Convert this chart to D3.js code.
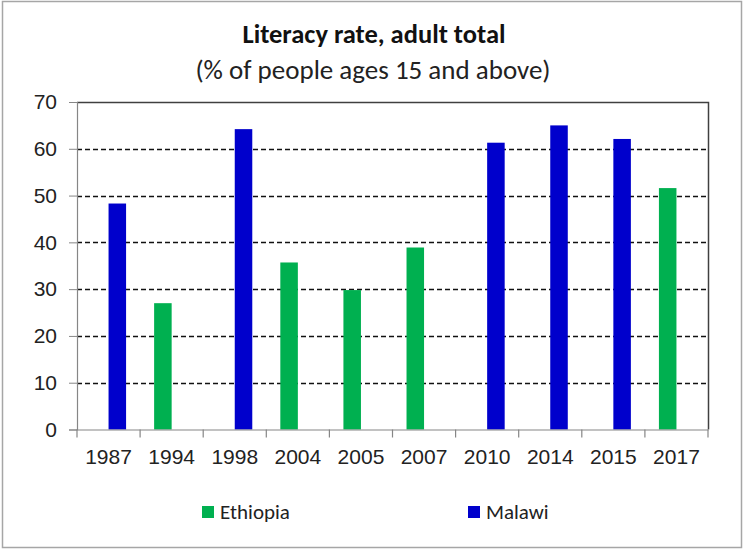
<!DOCTYPE html>
<html><head><meta charset="utf-8">
<script src="https://cdn.jsdelivr.net/npm/d3@7"></script>
<style>
html,body{margin:0;padding:0;background:#fff;}
svg{display:block;font-family:Calibri,Carlito,Lato,"Open Sans",sans-serif;}
</style></head>
<body>
<script>
const years = ["1987","1994","1998","2004","2005","2007","2010","2014","2015","2017"];
const seriesNames = ["Ethiopia","Malawi"];
const ethiopia = [null,27.0,null,35.7,29.8,38.9,null,null,null,51.6];
const malawi = [48.3,null,64.2,null,null,null,61.3,65.0,62.1,null];
const yTicks = [0,10,20,30,40,50,60,70];
const colors = {"Ethiopia":"#00B050","Malawi":"#0000CC"};

const W=743,H=550;
const m={left:77,top:102,right:708,bottom:429.5};
const svg=d3.select("body").append("svg").attr("width",W).attr("height",H);
svg.append("rect").attr("x",2.5).attr("y",1.5).attr("width",W-4).attr("height",H-4)
  .attr("fill","#fff").attr("stroke","#a6a6a6").attr("stroke-width",1.5);

const x0=d3.scaleBand().domain(years).range([m.left,m.right]).padding(0);
const x1=d3.scaleBand().domain(seriesNames).range([0,x0.bandwidth()]).paddingInner(0).paddingOuter(0.8);
const y=d3.scaleLinear().domain([0,70]).range([m.bottom,m.top]);

// gridlines
svg.append("g").selectAll("line").data(yTicks.filter(d=>d>0&&d<70)).join("line")
  .attr("x1",m.left).attr("x2",m.right).attr("y1",d=>Math.round(y(d))+0.5).attr("y2",d=>Math.round(y(d))+0.5)
  .attr("stroke","#111").attr("stroke-width",1.3).attr("stroke-dasharray","5,3");

// bars
const data=[];
years.forEach((yr,i)=>{
  if(ethiopia[i]!=null) data.push({yr,s:"Ethiopia",v:ethiopia[i]});
  if(malawi[i]!=null) data.push({yr,s:"Malawi",v:malawi[i]});
});
svg.append("g").selectAll("rect").data(data).join("rect")
  .attr("x",d=>x0(d.yr)+x1(d.s)).attr("width",x1.bandwidth())
  .attr("y",d=>y(d.v)).attr("height",d=>y(0)-y(d.v)).attr("fill",d=>colors[d.s]);

// top and right border
svg.append("path").attr("d",`M${m.left},${m.top+0.5}H${m.right+0.5}V${m.bottom}`)
  .attr("fill","none").attr("stroke","#404040").attr("stroke-width",1.5);

// y axis
const yAxis=d3.axisLeft(y).tickValues(yTicks).tickSize(8).tickPadding(12);
const gy=svg.append("g").attr("transform",`translate(${m.left},0)`).call(yAxis);
gy.select(".domain").attr("stroke","#868686").attr("stroke-width",1.2);
gy.selectAll(".tick line").attr("stroke","#868686");
gy.selectAll(".tick text").attr("font-size",21).attr("fill","#222").style("font-family","inherit");

// x axis
const gx=svg.append("g").attr("transform",`translate(0,${m.bottom})`)
  .call(d3.axisBottom(x0).tickSize(0).tickPadding(20));
gx.select(".domain").attr("stroke","#868686").attr("stroke-width",1.2);
gx.selectAll(".tick text").attr("font-size",21).attr("fill","#222").style("font-family","inherit");
const bounds=years.map(yr=>x0(yr)).concat([m.right]);
gx.append("g").selectAll("line").data(bounds).join("line")
  .attr("x1",d=>d).attr("x2",d=>d).attr("y1",0).attr("y2",8).attr("stroke","#868686").attr("stroke-width",1.2);

// titles
svg.append("text").attr("x",374).attr("y",43).attr("text-anchor","middle")
  .attr("font-size",26.5).attr("font-weight","bold").attr("fill","#111").text("Literacy rate, adult total");
svg.append("text").attr("x",373).attr("y",79).attr("text-anchor","middle")
  .attr("font-size",27).attr("fill","#222").text("(% of people ages 15 and above)");

// legend
const legX={"Ethiopia":202,"Malawi":468};
const lg=svg.append("g").selectAll("g").data(seriesNames).join("g")
  .attr("transform",d=>`translate(${legX[d]},506)`);
lg.append("rect").attr("width",12).attr("height",12).attr("fill",d=>colors[d]);
lg.append("text").attr("x",18).attr("y",12.5).attr("font-size",21).attr("fill","#222").text(d=>d);
</script>
</body></html>
